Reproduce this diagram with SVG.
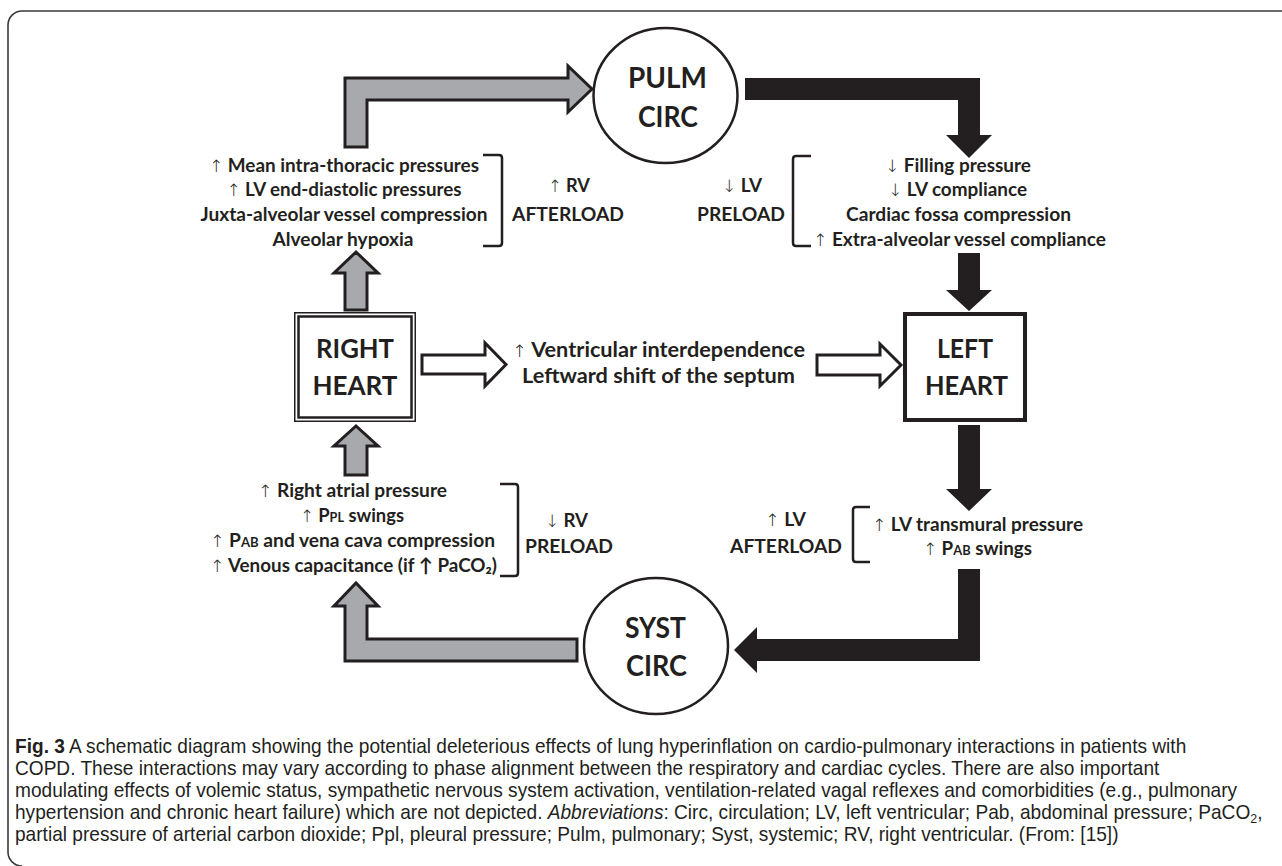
<svg xmlns="http://www.w3.org/2000/svg" width="1282" height="866" viewBox="0 0 1282 866">
<style>
.t{font-family:Lato,"Open Sans",sans-serif;font-weight:700;font-size:19px;fill:#231f20}
.m{font-family:Lato,"Open Sans",sans-serif;font-weight:700;font-size:21px;fill:#231f20}
.h{font-family:Lato,"Open Sans",sans-serif;font-weight:700;font-size:26px;fill:#231f20}
.c{font-family:Lato,"Open Sans",sans-serif;font-weight:700;font-size:28px;fill:#231f20}
.ar{font-family:"DejaVu Sans",sans-serif;font-weight:200;font-size:17px;fill:#231f20}
.sc{font-size:13px}
.cap{font-family:"Liberation Sans",Arial,sans-serif;font-size:20px;fill:#231f20}
.gray{fill:#a7a9ac;stroke:#231f20;stroke-width:3;stroke-linejoin:miter}
.blk{fill:#231f20;stroke:none}
.hol{fill:#fff;stroke:#231f20;stroke-width:3;stroke-linejoin:miter}
.br{fill:none;stroke:#231f20;stroke-width:2.5}
.node{fill:#fff;stroke:#231f20}
</style>

<path d="M1282,11 H22 A14,14 0 0 0 8,25 V852 A14,14 0 0 0 22,866" fill="none" stroke="#3a3a3a" stroke-width="1.6"/>

<g id="connectors">
  <path class="gray" d="M345,147 V78 H568 V66 L592,89 L568,112 V100 H367 V147 Z"/>
  <path class="blk" d="M745,78 H980 V135 H992 L969,158 L946,135 H958 V100 H745 Z"/>
  <path class="blk" d="M958,253 H980 V290 H992 L969,311 L946,290 H958 Z"/>
  <path class="blk" d="M958,425 H980 V489 H992 L969,511 L946,489 H958 Z"/>
  <path class="blk" d="M958,569 H980 V661 H757 V673 L734,650 L757,627 V639 H958 Z"/>
  <path class="gray" d="M577,639 H367 V606 H378 L356,583 L334,606 H345 V661 H577 Z"/>
  <path class="gray" d="M345,475 V446 H334 L356,426 L378,446 H367 V475 Z"/>
  <path class="gray" d="M345,310 V273 H334 L356,252 L378,273 H367 V310 Z"/>
  <path class="hol" d="M422,355 H485 V343 L506,364.5 L485,386 V374 H422 Z"/>
  <path class="hol" d="M817,355 H880 V344 L901,365 L880,386 V375 H817 Z"/>
</g>

<g id="pulm-circ">
  <ellipse class="node" cx="665.5" cy="95.5" rx="72" ry="67.5" stroke-width="2.5"/>
  <text class="c" x="667.5" y="88" text-anchor="middle" textLength="79" lengthAdjust="spacingAndGlyphs">PULM</text>
  <text class="c" x="668" y="127" text-anchor="middle" textLength="60" lengthAdjust="spacingAndGlyphs">CIRC</text>
</g>

<g id="syst-circ">
  <ellipse class="node" cx="656" cy="646" rx="72" ry="68" stroke-width="2.5"/>
  <text class="c" x="655.5" y="638" text-anchor="middle" textLength="61" lengthAdjust="spacingAndGlyphs">SYST</text>
  <text class="c" x="656.5" y="676" text-anchor="middle" textLength="61" lengthAdjust="spacingAndGlyphs">CIRC</text>
</g>

<g id="right-heart">
  <rect class="node" x="294.75" y="312.75" width="120.5" height="108.5" stroke-width="1.5"/>
  <rect class="node" x="298.5" y="316.5" width="113" height="101" stroke-width="2.5"/>
  <text class="h" x="355" y="358" text-anchor="middle" textLength="78" lengthAdjust="spacingAndGlyphs">RIGHT</text>
  <text class="h" x="355" y="395" text-anchor="middle" textLength="85" lengthAdjust="spacingAndGlyphs">HEART</text>
</g>

<g id="left-heart">
  <rect class="node" x="905" y="314" width="120" height="106" stroke-width="4"/>
  <text class="h" x="965" y="358" text-anchor="middle" textLength="56" lengthAdjust="spacingAndGlyphs">LEFT</text>
  <text class="h" x="966.5" y="395" text-anchor="middle" textLength="83" lengthAdjust="spacingAndGlyphs">HEART</text>
</g>

<g id="rv-afterload">
  <text class="t" x="344" y="172" text-anchor="middle" textLength="270" lengthAdjust="spacingAndGlyphs"><tspan class="ar">↑</tspan> Mean intra-thoracic pressures</text>
  <text class="t" x="344" y="196" text-anchor="middle" textLength="235" lengthAdjust="spacingAndGlyphs"><tspan class="ar">↑</tspan> LV end-diastolic pressures</text>
  <text class="t" x="344" y="221" text-anchor="middle" textLength="287" lengthAdjust="spacingAndGlyphs">Juxta-alveolar vessel compression</text>
  <text class="t" x="343" y="246" text-anchor="middle" textLength="141" lengthAdjust="spacingAndGlyphs">Alveolar hypoxia</text>
  <path class="br" d="M483,155 H499 Q502,155 502,158 V243 Q502,246 499,246 H483"/>
  <text class="t" x="569" y="192" text-anchor="middle" textLength="42" lengthAdjust="spacingAndGlyphs"><tspan class="ar">↑</tspan> RV</text>
  <text class="t" x="568" y="221" text-anchor="middle" textLength="112" lengthAdjust="spacingAndGlyphs">AFTERLOAD</text>
</g>

<g id="lv-preload">
  <text class="t" x="742" y="192" text-anchor="middle" textLength="40" lengthAdjust="spacingAndGlyphs"><tspan class="ar">↓</tspan> LV</text>
  <text class="t" x="741" y="221" text-anchor="middle" textLength="88" lengthAdjust="spacingAndGlyphs">PRELOAD</text>
  <path class="br" d="M811,156 H796 Q793,156 793,159 V243 Q793,246 796,246 H811"/>
  <text class="t" x="958" y="172" text-anchor="middle" textLength="146" lengthAdjust="spacingAndGlyphs"><tspan class="ar">↓</tspan> Filling pressure</text>
  <text class="t" x="957.5" y="196" text-anchor="middle" textLength="139" lengthAdjust="spacingAndGlyphs"><tspan class="ar">↓</tspan> LV compliance</text>
  <text class="t" x="958.5" y="221" text-anchor="middle" textLength="225" lengthAdjust="spacingAndGlyphs">Cardiac fossa compression</text>
  <text class="t" x="959.5" y="246" text-anchor="middle" textLength="293" lengthAdjust="spacingAndGlyphs"><tspan class="ar">↑</tspan> Extra-alveolar vessel compliance</text>
</g>

<g id="interdependence">
  <text class="m" x="658.5" y="357" text-anchor="middle" textLength="293" lengthAdjust="spacingAndGlyphs"><tspan class="ar">↑</tspan> Ventricular interdependence</text>
  <text class="m" x="658.5" y="383" text-anchor="middle" textLength="273" lengthAdjust="spacingAndGlyphs">Leftward shift of the septum</text>
</g>

<g id="rv-preload">
  <text class="t" x="352.5" y="497" text-anchor="middle" textLength="189" lengthAdjust="spacingAndGlyphs"><tspan class="ar">↑</tspan> Right atrial pressure</text>
  <text class="t" x="352" y="522" text-anchor="middle" textLength="104" lengthAdjust="spacingAndGlyphs"><tspan class="ar">↑</tspan> P<tspan class="sc">PL</tspan> swings</text>
  <text class="t" x="352.5" y="547" text-anchor="middle" textLength="285" lengthAdjust="spacingAndGlyphs"><tspan class="ar">↑</tspan> P<tspan class="sc">AB</tspan> and vena cava compression</text>
  <text class="t" x="353.5" y="572" text-anchor="middle" textLength="287" lengthAdjust="spacingAndGlyphs"><tspan class="ar">↑</tspan> Venous capacitance (if ↑ PaCO₂)</text>
  <path class="br" d="M500,484 H515 Q518,484 518,487 V573 Q518,576 515,576 H500"/>
  <text class="t" x="566.5" y="527" text-anchor="middle" textLength="43" lengthAdjust="spacingAndGlyphs"><tspan class="ar">↓</tspan> RV</text>
  <text class="t" x="569" y="553" text-anchor="middle" textLength="88" lengthAdjust="spacingAndGlyphs">PRELOAD</text>
</g>

<g id="lv-afterload">
  <text class="t" x="785.5" y="526" text-anchor="middle" textLength="41" lengthAdjust="spacingAndGlyphs"><tspan class="ar">↑</tspan> LV</text>
  <text class="t" x="786" y="553" text-anchor="middle" textLength="112" lengthAdjust="spacingAndGlyphs">AFTERLOAD</text>
  <path class="br" d="M870,507 H856 Q853,507 853,510 V559 Q853,562 856,562 H870"/>
  <text class="t" x="977.5" y="531" text-anchor="middle" textLength="211" lengthAdjust="spacingAndGlyphs"><tspan class="ar">↑</tspan> LV transmural pressure</text>
  <text class="t" x="977.5" y="555" text-anchor="middle" textLength="109" lengthAdjust="spacingAndGlyphs"><tspan class="ar">↑</tspan> P<tspan class="sc">AB</tspan> swings</text>
</g>

<g id="caption" class="cap" transform="translate(15,0) scale(0.955,1)">
  <text x="0" y="753"><tspan font-weight="700">Fig. 3</tspan> A schematic diagram showing the potential deleterious effects of lung hyperinflation on cardio-pulmonary interactions in patients with</text>
  <text x="0" y="775">COPD. These interactions may vary according to phase alignment between the respiratory and cardiac cycles. There are also important</text>
  <text x="0" y="797">modulating effects of volemic status, sympathetic nervous system activation, ventilation-related vagal reflexes and comorbidities (e.g., pulmonary</text>
  <text x="0" y="819">hypertension and chronic heart failure) which are not depicted. <tspan font-style="italic">Abbreviations</tspan>: Circ, circulation; LV, left ventricular; Pab, abdominal pressure; PaCO<tspan font-size="13" dy="4">2</tspan><tspan dy="-4">,</tspan></text>
  <text x="0" y="841">partial pressure of arterial carbon dioxide; Ppl, pleural pressure; Pulm, pulmonary; Syst, systemic; RV, right ventricular. (From: [15])</text>
</g>
</svg>
